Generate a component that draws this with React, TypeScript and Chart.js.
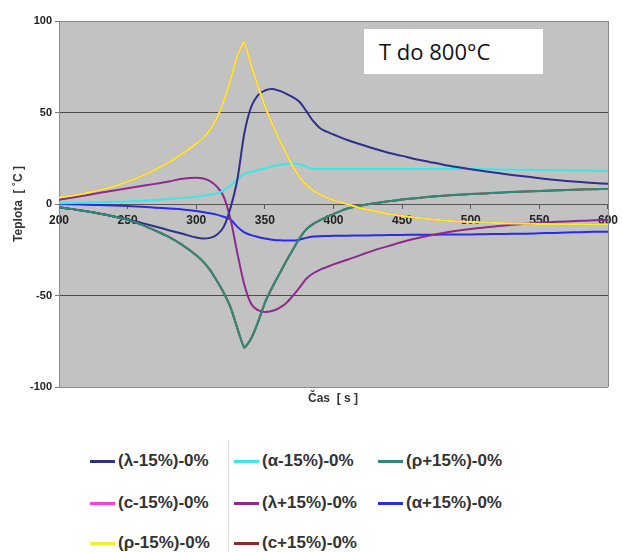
import React, { useEffect, useRef } from "react";
import { Chart, registerables } from "chart.js";

Chart.register(...registerables);

const times = [
  200, 210, 220, 230, 240, 250, 260, 270, 280, 290, 300,
  305, 310, 315, 320, 325, 330, 335, 340, 345, 350,
  355, 360, 365, 370, 375, 380, 385, 390, 395, 400,
  410, 420, 430, 440, 450, 460, 470, 480, 490, 500,
  510, 520, 530, 540, 550, 560, 570, 580, 590, 600,
];

const lambdaMinus = [
  -1.8, -2.8, -4, -5.3, -6.8, -8.4, -10.3, -12.3, -14.3, -16.3, -18.3,
  -18.8, -18.5, -16.8, -12.5, -2, 13.5, 38.5, 53, 59.5, 62,
  62.8, 62, 60.5, 58.5, 56, 51, 45.5, 41.5, 39.5, 38,
  35, 32.5, 30.2, 28, 26.3, 24.5, 23, 21.5, 20.2, 19,
  17.9, 16.9, 15.9, 15, 14.1, 13.3, 12.6, 12, 11.5, 11,
];

const alphaMinus = [
  0.4, 0.6, 0.8, 1.0, 1.2, 1.4, 1.8, 2.2, 2.7, 3.3, 4,
  4.5, 5.1, 5.8, 7.5, 10, 13.5, 16.4, 17.5, 18.6, 19.5,
  20.5, 21.3, 21.8, 22.2, 21.8, 20.5, 19.3, 19.1, 19.1, 19.1,
  19.1, 19.1, 19.1, 19.1, 19.1, 19.1, 19.1, 19.1, 19.1, 19.1,
  19, 18.9, 18.8, 18.7, 18.6, 18.5, 18.4, 18.3, 18.2, 18.2,
];

const rhoPlus = [
  -1.8, -2.8, -4, -5.3, -6.8, -8.6, -11.3, -14.5, -18, -22.5, -28,
  -31.5, -36, -42, -48.5, -56.5, -68, -78.5, -73.5, -64.5, -54,
  -46, -39, -32, -25.5, -19, -14, -11, -9, -7, -5.5,
  -2.5, -0.8, 0.4, 1.5, 2.4, 3.2, 3.9, 4.5, 5, 5.4,
  5.8, 6.2, 6.5, 6.8, 7.1, 7.4, 7.7, 7.9, 8.1, 8.2,
];

const cMinus = [
  3.5, 4.6, 6, 7.6, 9.6, 12.2, 15.2, 18.7, 22.7, 27.5, 33,
  36, 40.5, 47, 56, 68, 81, 88.5, 75.5, 64.5, 53.5,
  44.5, 36, 28.5, 21, 15, 10.5, 7.5, 5.2, 3.5, 2,
  0, -2.5, -3.8, -5.5, -6.5, -7.5, -8.3, -9, -9.5, -9.8,
  -10.1, -10.4, -10.6, -10.8, -10.9, -11, -11, -11.1, -11.2, -11.2,
];

const lambdaPlus = [
  2.3, 3.5, 4.8, 6.1, 7.4, 8.6, 9.8, 11, 12.3, 13.8, 14.3,
  13.9, 12.5, 9.5, 4, -8.5, -27, -44, -54.5, -58, -59,
  -58.5, -57, -54.5, -50.5, -46, -41, -38, -36, -34.5, -33,
  -30.5, -27.8, -25.2, -23, -20.8, -18.9, -17.2, -15.8, -14.6, -13.6,
  -12.8, -12, -11.4, -10.8, -10.3, -9.9, -9.5, -9.2, -8.9, -8.7,
];

const alphaPlus = [
  0, -0.2, -0.4, -0.6, -0.8, -1.1, -1.5, -2, -2.5, -3, -3.8,
  -4.4, -5, -5.8, -7, -8.5, -12.5, -15.5, -17, -18, -18.8,
  -19.5, -19.8, -20, -20, -19.5, -18.5, -17.8, -17.6, -17.5, -17.4,
  -17.3, -17.2, -17.1, -17, -16.9, -16.8, -16.8, -16.7, -16.7, -16.6,
  -16.5, -16.4, -16.3, -16.2, -16, -15.8, -15.6, -15.4, -15.2, -15.1,
];

const rhoMinus = [
  3.5, 4.6, 6, 7.6, 9.6, 12.2, 15.2, 18.7, 22.7, 27.5, 33,
  36, 40.5, 47, 56, 68, 81, 88.5, 75.5, 64.5, 53.5,
  44.5, 36, 28.5, 21, 15, 10.5, 7.5, 5.2, 3.5, 2,
  0, -2.5, -3.8, -5.5, -6.5, -7.5, -8.3, -9, -9.5, -9.8,
  -10.1, -10.4, -10.6, -10.8, -10.9, -11, -11, -11.1, -11.2, -11.2,
];

const cPlus = [
  -1.8, -2.8, -4, -5.3, -6.8, -8.6, -11.3, -14.5, -18, -22.5, -28,
  -31.5, -36, -42, -48.5, -56.5, -68, -78.5, -73.5, -64.5, -54,
  -46, -39, -32, -25.5, -19, -14, -11, -9, -7, -5.5,
  -2.5, -0.8, 0.4, 1.5, 2.4, 3.2, 3.9, 4.5, 5, 5.4,
  5.8, 6.2, 6.5, 6.8, 7.1, 7.4, 7.7, 7.9, 8.1, 8.2,
];

const seriesLabels = [
  "(λ-15%)-0%",
  "(α-15%)-0%",
  "(ρ+15%)-0%",
  "(c-15%)-0%",
  "(λ+15%)-0%",
  "(α+15%)-0%",
  "(ρ-15%)-0%",
  "(c+15%)-0%",
];
const seriesValues = [lambdaMinus, alphaMinus, rhoPlus, cMinus, lambdaPlus, alphaPlus, rhoMinus, cPlus];
const seriesColors = ["#2f2f8c", "#3ee6e6", "#2e8a78", "#ff3fd8", "#8e2a8e", "#2a2ae8", "#f2ee30", "#8b2b2b"];
const seriesOrder = [3, 4, 2, 9, 5, 6, 1, 8];
const seriesSharp = [false, false, true, true, false, false, true, true];

const yTicks = [-100, -50, 0, 50, 100];
const xTickStep = 50;

const bgPlugin = {
  id: "plotBg",
  beforeDraw(chart: any) {
    const { ctx, chartArea } = chart;
    ctx.save();
    ctx.fillStyle = "#c2c2c2";
    ctx.fillRect(chartArea.left, chartArea.top, chartArea.right - chartArea.left, chartArea.bottom - chartArea.top);
    ctx.restore();
  },
  afterDatasetsDraw(chart: any) {
    const { ctx, chartArea } = chart;
    ctx.save();
    ctx.strokeStyle = "#8a8a8a";
    ctx.lineWidth = 1;
    ctx.beginPath();
    ctx.moveTo(chartArea.right + 0.5, chartArea.top);
    ctx.lineTo(chartArea.right + 0.5, chartArea.bottom);
    ctx.stroke();
    ctx.restore();
  },
};

function ChartCanvas() {
  const ref = useRef<HTMLCanvasElement | null>(null);
  useEffect(() => {
    if (!ref.current) return;
    const chart = new Chart(ref.current, {
      type: "line",
      data: {
        datasets: seriesLabels.map((label, i) => ({
          label,
          data: times.map((t, j) => ({ x: t, y: seriesValues[i][j] })),
          borderColor: seriesColors[i],
          backgroundColor: seriesColors[i],
          borderWidth: 2,
          pointRadius: 0,
          cubicInterpolationMode: seriesSharp[i] ? ("default" as const) : ("monotone" as const),
          tension: seriesSharp[i] ? 0.15 : 0.4,
          order: seriesOrder[i],
          fill: false,
        })),
      },
      options: {
        responsive: false,
        animation: false,
        devicePixelRatio: 1,
        layout: { padding: { left: 0, top: 21, right: 8, bottom: 33 } },
        plugins: { legend: { display: false }, tooltip: { enabled: false } },
        scales: {
          x: {
            type: "linear",
            min: 200,
            max: 600,
            position: { y: 0 } as any,
            ticks: {
              stepSize: xTickStep,
              color: "#222",
              font: { family: "Liberation Sans, Arial", size: 12, weight: "bold" },
              padding: 5,
              maxRotation: 0,
            },
            grid: { drawOnChartArea: false, drawTicks: true, tickLength: 4, color: "#555" },
            border: { color: "#555", width: 1 },
          },
          y: {
            min: -100,
            max: 100,
            afterBuildTicks: (scale: any) => {
              scale.ticks = yTicks.map((v) => ({ value: v }));
            },
            afterFit: (scale: any) => {
              scale.width = 59;
            },
            ticks: {
              color: "#222",
              font: { family: "Liberation Sans, Arial", size: 11, weight: "bold" },
              padding: 3,
            },
            grid: {
              color: (c: any) => (c.tick && (c.tick.value === 100 || c.tick.value === -100) ? "#8a8a8a" : "#4a4a4a"),
              tickLength: 4,
              tickColor: "#777",
            },
            border: { color: "#8a8a8a" },
            title: {
              display: true,
              text: "Teplota  [ ˚C ]",
              color: "#333",
              font: { family: "Liberation Sans, Arial", size: 12, weight: "bold" },
              padding: { top: 11, bottom: 0 },
            },
          },
        },
      },
      plugins: [bgPlugin],
    });
    return () => chart.destroy();
  }, []);
  return <canvas ref={ref} width={623} height={420} style={{ position: "absolute", left: 0, top: 0, width: 623, height: 420 }} />;
}

const legendCols = [90, 234, 378];
const legendRows = [461, 503, 543];

export default function App() {
  return (
    <div style={{ position: "absolute", left: 0, top: 0, width: 623, height: 552, background: "#fff", overflow: "hidden" }}>
      <ChartCanvas />
      <div
        style={{
          position: "absolute",
          left: 364,
          top: 29,
          width: 179,
          height: 45,
          background: "#fff",
          fontFamily: "'Open Sans', 'Noto Sans', sans-serif",
          fontSize: 22,
          color: "#111",
          lineHeight: "45px",
          paddingLeft: 15,
          boxSizing: "border-box",
          whiteSpace: "nowrap",
        }}
      >
        T do 800°C
      </div>
      <div
        style={{
          position: "absolute",
          left: 233,
          top: 391,
          width: 200,
          textAlign: "center",
          fontFamily: "'Liberation Sans', Arial, sans-serif",
          fontWeight: "bold",
          fontSize: 12,
          color: "#333",
        }}
      >
        Čas&nbsp;&nbsp;[ s ]
      </div>
      <div style={{ position: "absolute", left: 228, top: 440, width: 1, height: 112, background: "#ddd" }} />
      {seriesLabels.map((label, i) => {
        const col = i % 3;
        const row = Math.floor(i / 3);
        return (
          <div
            key={label}
            style={{
              position: "absolute",
              left: legendCols[col],
              top: legendRows[row] - 11,
              height: 22,
              display: "flex",
              alignItems: "center",
              fontFamily: "'Liberation Sans', Arial, sans-serif",
              fontWeight: "bold",
              fontSize: 17,
              color: "#333",
              whiteSpace: "nowrap",
            }}
          >
            <span style={{ display: "inline-block", width: 25, height: 3, background: seriesColors[i], marginRight: 3 }} />
            {label}
          </div>
        );
      })}
    </div>
  );
}
